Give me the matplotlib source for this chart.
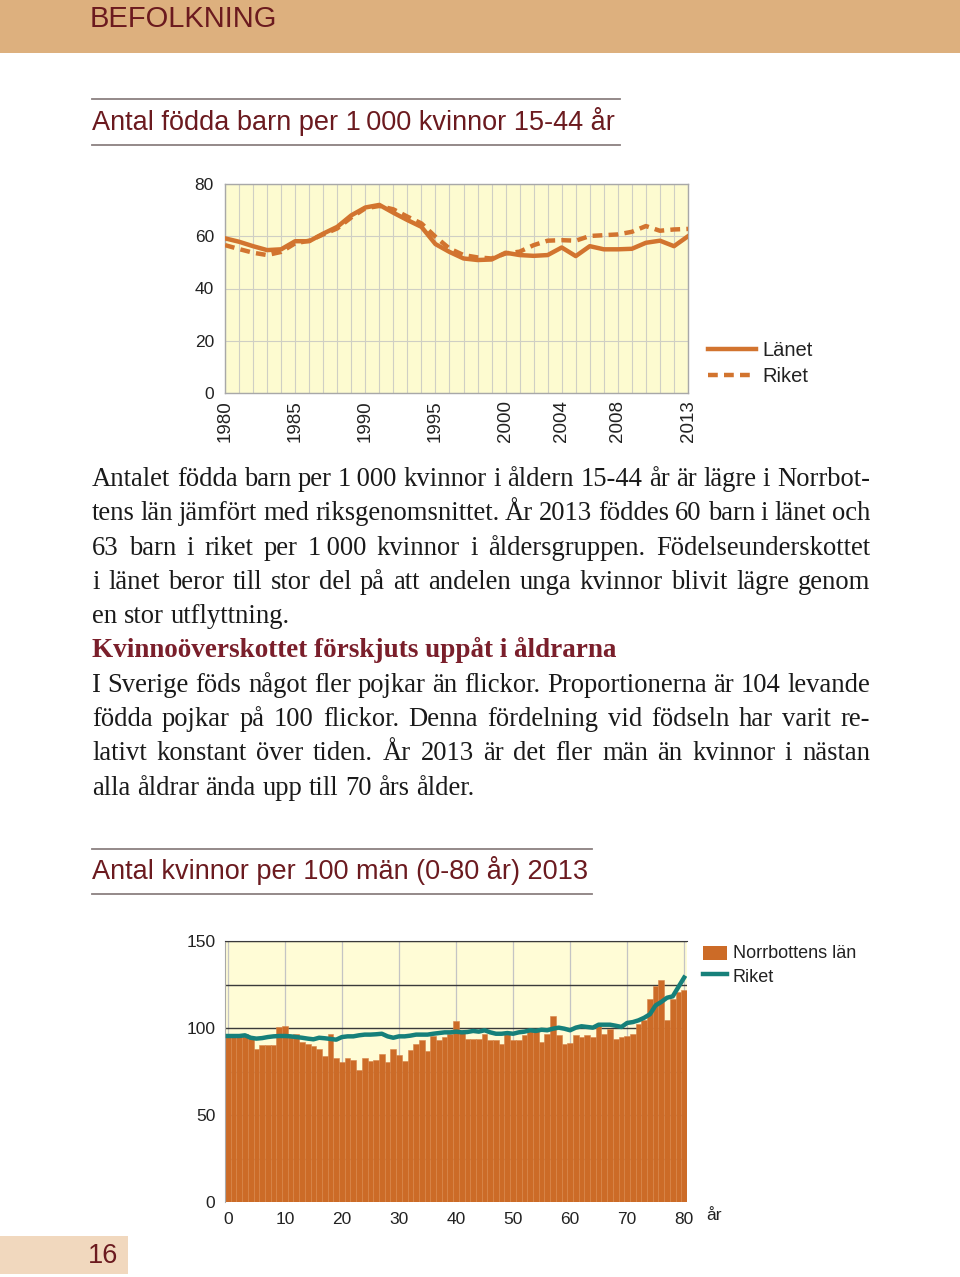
import matplotlib
matplotlib.use("Agg")
import matplotlib.pyplot as plt
from matplotlib.lines import Line2D
from matplotlib.patches import Rectangle

# Antal födda barn per 1 000 kvinnor 15-44 år
years = list(range(1980, 2014))
lanet = [59.2, 57.9, 56.2, 54.7, 55.0, 58.1, 58.1, 61.0, 63.6, 68.0,
         71.0, 72.0, 69.0, 66.2, 63.6, 57.0, 54.0, 51.5, 50.9, 51.1,
         53.7, 52.8, 52.5, 52.8, 55.7, 52.4, 56.2, 55.0, 55.0, 55.2,
         57.5, 58.3, 56.2, 60.0]
riket = [56.6, 55.1, 53.7, 52.8, 54.0, 57.3, 58.3, 60.7, 63.0, 67.2,
         70.7, 71.6, 70.3, 67.5, 64.9, 59.8, 55.3, 52.8, 51.9, 51.5,
         53.4, 54.1, 56.6, 58.3, 58.5, 58.3, 60.1, 60.4, 60.7, 61.7,
         63.9, 62.1, 62.6, 62.8]
year_ticks = [1980, 1985, 1990, 1995, 2000, 2004, 2008, 2013]

# Antal kvinnor per 100 män (0-80 år) 2013
ages = list(range(0, 81))
norrbotten = [96.7, 95.8, 95.8, 96.7, 94.8, 88.0, 90.0, 90.0, 90.0, 100.6,
              101.0, 95.8, 96.7, 92.0, 91.0, 89.5, 88.0, 83.7, 96.7, 83.0,
              80.5, 83.0, 81.8, 76.0, 83.0, 81.0, 81.8, 84.9, 80.7, 88.0,
              84.3, 80.8, 87.2, 91.0, 92.9, 86.8, 95.2, 93.3, 94.8, 96.4,
              104.0, 98.3, 93.9, 93.9, 93.9, 96.7, 93.3, 93.3, 91.0, 97.7,
              93.3, 93.3, 95.8, 99.6, 98.3, 92.0, 96.7, 106.7, 95.8, 91.0,
              91.6, 95.8, 94.8, 95.8, 94.8, 101.0, 96.7, 99.6, 93.9, 94.8,
              95.2, 96.4, 102.5, 104.4, 116.9, 124.0, 127.8, 104.8, 116.9, 120.7,
              122.0]
riket_kvinnor = [95.4, 95.4, 95.4, 95.8, 94.4, 93.9, 94.2, 94.8, 95.2, 95.4,
                 95.4, 95.2, 94.8, 94.4, 93.9, 93.5, 94.4, 94.1, 93.7, 93.3,
                 94.8, 95.2, 95.2, 95.8, 96.2, 96.2, 96.4, 96.7, 95.2, 94.4,
                 95.2, 95.2, 95.6, 96.2, 96.2, 96.2, 96.7, 97.1, 97.5, 97.5,
                 97.9, 97.5, 97.7, 98.3, 97.9, 98.7, 97.5, 96.7, 96.7, 97.1,
                 96.7, 97.5, 97.9, 98.7, 98.3, 99.0, 98.7, 99.6, 100.2, 99.6,
                 98.7, 100.2, 101.0, 100.6, 100.2, 101.9, 101.9, 101.9, 101.3, 100.6,
                 102.9, 103.4, 104.4, 105.9, 107.9, 113.0, 115.0, 117.4, 118.2, 123.6,
                 129.0]

W, H = 960, 1277
dark_red = "#6B1A1F"
orange_line = "#D2742F"
orange_bar = "#CC6B27"
teal = "#16807A"
sans = ["Liberation Sans", "DejaVu Sans"]
serif = ["Liberation Serif", "DejaVu Serif"]

fig = plt.figure(figsize=(9.6, 12.77), dpi=100)
fig.patch.set_facecolor("white")

# sidan i pixelkoordinater
page = fig.add_axes([0, 0, 1, 1], zorder=0)
page.set_xlim(0, W)
page.set_ylim(H, 0)
page.axis("off")

# rubrikband
page.add_patch(Rectangle((0, 0), W, 53, color="#DDB07E", lw=0))
page.text(90, 19, "BEFOLKNING", fontsize=21, color=dark_red, family=sans,
          va="center", ha="left")

# sidnummer
page.add_patch(Rectangle((0, 1236), 128, 38, color="#F1D8BE", lw=0))
page.text(103, 1256, "16", fontsize=19.5, color=dark_red, family=sans,
          va="center", ha="center")

# diagramrubriker
for (y1, y2, x1, title) in [(99, 145, 620, "Antal födda barn per 1\u2009000 kvinnor 15-44 år"),
                            (849, 894, 592, "Antal kvinnor per 100 män (0-80 år) 2013")]:
    page.add_line(Line2D([92, x1], [y1, y1], color="#8B8080", lw=1.3))
    page.add_line(Line2D([92, x1], [y2, y2], color="#8B8080", lw=1.3))
    page.text(92, (y1 + y2) / 2 - 1, title, fontsize=19.5, color=dark_red,
              family=sans, va="center", ha="left")

# brödtext, justerad
renderer = fig.canvas.get_renderer()


def justify(line, y, x0=92, x1=870, last=False, **kw):
    words = line.split(" ")
    arts = [page.text(0, y, w, va="baseline", ha="left", **kw) for w in words]
    widths = [a.get_window_extent(renderer).width for a in arts]
    if last or len(words) < 2:
        t1 = page.text(0, y, "a a", **kw)
        t2 = page.text(0, y, "aa", **kw)
        gap = t1.get_window_extent(renderer).width - t2.get_window_extent(renderer).width
        t1.remove()
        t2.remove()
    else:
        gap = (x1 - x0 - sum(widths)) / (len(words) - 1)
    x = x0
    for a, w in zip(arts, widths):
        a.set_x(x)
        x += w + gap


body = dict(fontsize=19.2, color="#1A1A1A", family=serif)
lines1 = ["Antalet födda barn per 1\u2009000 kvinnor i åldern 15-44 år är lägre i Norrbot-",
          "tens län jämfört med riksgenomsnittet. År 2013 föddes 60 barn i länet och",
          "63 barn i riket per 1\u2009000 kvinnor i åldersgruppen. Födelseunderskottet",
          "i länet beror till stor del på att andelen unga kvinnor blivit lägre genom",
          "en stor utflyttning."]
lines2 = ["I Sverige föds något fler pojkar än flickor. Proportionerna är 104 levande",
          "födda pojkar på 100 flickor. Denna fördelning vid födseln har varit re-",
          "lativt konstant över tiden. År 2013 är det fler män än kvinnor i nästan",
          "alla åldrar ända upp till 70 års ålder."]
step = 34.3
y = 486
for i, ln in enumerate(lines1):
    justify(ln, y, last=(i == len(lines1) - 1), **body)
    y += step
page.text(92, y, "Kvinnoöverskottet förskjuts uppåt i åldrarna", fontsize=19.5,
          fontweight="bold", color="#7A1F2B", family=serif, va="baseline")
y += step
for i, ln in enumerate(lines2):
    justify(ln, y, last=(i == len(lines2) - 1), **body)
    y += step

# diagram 1: födda barn
ax1 = fig.add_axes([225 / W, 1 - 393 / H, 463 / W, 209 / H], zorder=2)
ax1.set_facecolor("#FDFBD0")
ax1.plot(years, lanet, color=orange_line, lw=3.2, solid_joinstyle="round", zorder=3)
ax1.plot(years, riket, color=orange_line, lw=3.2, linestyle=(0, (2.2, 1.4)), zorder=3)
ax1.set_xlim(1980, 2013)
ax1.set_ylim(0, 80)
ax1.set_xticks(year_ticks)
ax1.set_xticks(years, minor=True)
ax1.set_xticklabels([str(t) for t in year_ticks], rotation=90, family=sans,
                    fontsize=13.5, color="#222222")
ax1.set_yticks([0, 20, 40, 60, 80])
ax1.set_yticklabels(["0", "20", "40", "60", "80"], family=sans, fontsize=12.5,
                    color="#222222")
ax1.tick_params(axis="both", which="both", length=0)
ax1.tick_params(axis="x", pad=5)
ax1.tick_params(axis="y", pad=8)
ax1.grid(True, which="minor", axis="x", color="#CFCFC4", lw=0.8)
ax1.grid(True, which="major", axis="both", color="#CFCFC4", lw=0.8)
ax1.set_axisbelow(True)
for s in ax1.spines.values():
    s.set_color("#A8A8A8")
    s.set_linewidth(1.0)

# legend diagram 1
page.add_line(Line2D([708, 756], [349, 349], color=orange_line, lw=3.2))
page.add_line(Line2D([708, 756], [375, 375], color=orange_line, lw=3.2,
                     linestyle=(0, (2.2, 1.4))))
page.text(762, 350, "Länet", fontsize=14.5, family=sans, color="#222222", va="center")
page.text(762, 376, "Riket", fontsize=14.5, family=sans, color="#222222", va="center")

# diagram 2: kvinnor per 100 män
ax2 = fig.add_axes([225 / W, 1 - 1202 / H, 462 / W, 261 / H], zorder=2)
ax2.set_facecolor("#FFFCD6")
ax2.bar(ages, norrbotten, width=1.0, color=orange_bar, edgecolor="#D8854A",
        linewidth=0.4, zorder=2)
ax2.plot(ages, riket_kvinnor, color=teal, lw=3.2, zorder=3)
ax2.set_xlim(-0.5, 80.5)
ax2.set_ylim(0, 150)
ax2.set_xticks(list(range(0, 81, 10)))
ax2.set_xticklabels([str(t) for t in range(0, 81, 10)], family=sans,
                    fontsize=12.5, color="#222222")
ax2.set_yticks([0, 50, 100, 150])
ax2.set_yticks([25, 75, 125], minor=True)
ax2.set_yticklabels(["0", "50", "100", "150"], family=sans, fontsize=12.5,
                    color="#222222")
ax2.tick_params(axis="both", which="both", length=0)
ax2.tick_params(axis="x", pad=7)
ax2.tick_params(axis="y", pad=7)
ax2.grid(True, which="both", axis="y", color="#3A3A3A", lw=1.0)
ax2.grid(True, which="major", axis="x", color="#C4C4C4", lw=0.9)
ax2.set_axisbelow(True)
ax2.spines["top"].set_color("#3A3A3A")
ax2.spines["left"].set_color("#A8A8A8")
ax2.spines["right"].set_visible(False)
ax2.spines["bottom"].set_visible(False)

page.text(706, 1216, "år", fontsize=12.5, family=sans, color="#222222", va="center")

# legend diagram 2
page.add_patch(Rectangle((703, 946), 24, 14, color=orange_bar, lw=0))
page.add_line(Line2D([703, 727], [974, 974], color=teal, lw=3.2))
page.text(733, 954, "Norrbottens län", fontsize=13, family=sans, color="#222222", va="center")
page.text(733, 978, "Riket", fontsize=13, family=sans, color="#222222", va="center")

fig.savefig("out.png", dpi=100)
